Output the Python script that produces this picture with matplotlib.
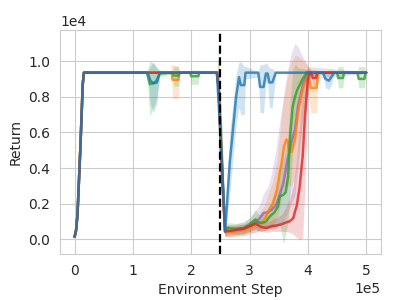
import matplotlib
matplotlib.use("Agg")
import matplotlib.pyplot as plt
import seaborn as sns

# Each row: (environment step, mean return, band low, band high)
ramp = [
    (0, 150, 50, 250), (2500, 500, 350, 650), (5000, 1400, 1200, 1600),
    (10000, 5200, 4900, 5500), (14000, 8700, 8500, 8900), (16000, 9350, 9300, 9400),
]

blue = ramp + [
    (125000, 9350, 9300, 9400), (130000, 8900, 7600, 9700), (135000, 8750, 7100, 9950),
    (141000, 8800, 7600, 9600), (146000, 9350, 9300, 9400), (244000, 9350, 9300, 9400),
    (252000, 4800, 3500, 6500), (258000, 450, 150, 900), (266000, 4300, 2500, 6000),
    (277000, 8000, 6500, 9300), (282000, 9100, 7400, 9950), (285000, 8650, 7000, 9950),
    (291000, 8650, 7000, 9700), (293000, 9350, 9000, 9700), (315000, 9350, 9100, 9400),
    (318000, 8550, 7100, 9800), (324000, 8550, 7100, 9800), (328000, 9300, 8800, 9900),
    (331000, 9300, 8800, 9800), (334000, 8800, 7400, 9600), (339000, 8800, 7400, 9600),
    (345000, 9350, 9300, 9400), (426000, 9350, 9300, 9400), (430000, 9000, 8500, 9450),
    (436000, 8900, 8400, 9500), (441000, 9150, 8700, 9500), (445000, 9350, 9300, 9400),
    (500000, 9350, 9300, 9400),
]

orange = ramp + [
    (164000, 9350, 9300, 9400), (166000, 9350, 9300, 9800), (168000, 8950, 7900, 9800),
    (178000, 8950, 7900, 9700), (180000, 9350, 9300, 9400), (244000, 9350, 9300, 9400),
    (247000, 8500, 7500, 9800), (252000, 4500, 3000, 6500), (258000, 400, 150, 800),
    (275000, 450, 150, 800), (290000, 520, 200, 850), (300000, 650, 300, 1000),
    (310000, 800, 400, 1300), (320000, 950, 450, 1600), (327000, 1200, 500, 2000),
    (332000, 1580, 600, 2600), (340000, 2000, 800, 3300), (347000, 2800, 1200, 4500),
    (352000, 3800, 1800, 6000), (355000, 4300, 2300, 7000), (359000, 5200, 2800, 8000),
    (363000, 5600, 3000, 8800), (366000, 5500, 3000, 9200), (367000, 4900, 3000, 9500),
    (372000, 4900, 3000, 10000), (378000, 5600, 3500, 10300), (383000, 7100, 4500, 10300),
    (392000, 8560, 7000, 10000), (400000, 9120, 8200, 9800), (403000, 8900, 7600, 9600),
    (405000, 8500, 7100, 9500), (415000, 8500, 7100, 9500), (418000, 9350, 9300, 9400),
    (500000, 9350, 9300, 9400),
]

green = ramp + [
    (124000, 9350, 9300, 9400), (129000, 8700, 6900, 10000), (134000, 8750, 7300, 9900),
    (140000, 8880, 7800, 9700), (146000, 9300, 9100, 9500), (168000, 9350, 9300, 9400),
    (170000, 9180, 8600, 9700), (178000, 9180, 8600, 9700), (180000, 9350, 9300, 9400),
    (198000, 9350, 9300, 9400), (200000, 9150, 8700, 9500), (212000, 9150, 8700, 9500),
    (214000, 9350, 9300, 9400), (244000, 9350, 9300, 9400), (247000, 8500, 7500, 10700),
    (252000, 4500, 3000, 7000), (258000, 500, 200, 800), (262000, 650, 350, 950),
    (275000, 600, 300, 900), (290000, 650, 300, 950), (300000, 840, 450, 1200),
    (310000, 1120, 600, 1700), (315000, 950, 500, 1400), (322000, 930, 500, 1400),
    (328000, 1000, 500, 1500), (335000, 1300, 600, 2000), (342000, 1500, 600, 2500),
    (349000, 1860, 700, 3000), (352000, 2420, 900, 4000), (358000, 2500, -250, 4500),
    (362000, 2650, 300, 5000), (366000, 3500, 1000, 6000), (370000, 6000, 3000, 8000),
    (374000, 7450, 5000, 9500), (378000, 8000, 6500, 9800), (382000, 8400, 7500, 9700),
    (386000, 8660, 8000, 9600), (390000, 8940, 8400, 9600), (398000, 9350, 9200, 9500),
    (450000, 9350, 9300, 9400), (452000, 9050, 8500, 9700), (460000, 9050, 8500, 9700),
    (462000, 9350, 9300, 9400), (485000, 9350, 9300, 9400), (487000, 9000, 8500, 9700),
    (497000, 9000, 8500, 9700), (499000, 9350, 9300, 9400), (500000, 9350, 9300, 9400),
]

red = ramp + [
    (244000, 9350, 9300, 9400), (247000, 8500, 7500, 9500), (252000, 4000, 2500, 6000),
    (258000, 460, 200, 750), (270000, 500, 250, 750), (280000, 550, 300, 800),
    (290000, 600, 350, 850), (300000, 740, 450, 1000), (310000, 890, 550, 1200),
    (320000, 700, 450, 1000), (329000, 650, 400, 950), (338000, 750, 450, 1100),
    (346000, 780, 450, 1200), (355000, 850, 450, 1400), (362000, 950, 450, 1800),
    (369000, 1020, 400, 2300), (375000, 1200, 300, 3000), (378000, 1580, 200, 3800),
    (381000, 1900, 100, 4500), (386000, 2980, 0, 6500), (391000, 4650, 100, 8500),
    (395000, 6890, 3000, 9500), (400000, 8940, 8000, 9600), (403000, 9330, 9000, 9600),
    (406000, 9350, 9200, 9500), (408000, 9050, 8600, 9500), (414000, 9050, 8600, 9500),
    (416000, 9350, 9300, 9400), (500000, 9350, 9300, 9400),
]

purple = ramp + [
    (244000, 9350, 9300, 9400), (247000, 8500, 7500, 9500), (252000, 4500, 3000, 6500),
    (258000, 450, 150, 800), (275000, 500, 200, 850), (290000, 600, 250, 1000),
    (300000, 750, 350, 1200), (310000, 950, 400, 1600), (318000, 1200, 500, 2000),
    (324000, 1490, 600, 2600), (332000, 1530, 600, 3000), (338000, 1680, 600, 3800),
    (345000, 1900, 700, 5000), (349000, 2230, 800, 6000), (358000, 3170, 1000, 8000),
    (365000, 4470, 1500, 9500), (372000, 5500, 2000, 10500), (378000, 6150, 2500, 11000),
    (383000, 7450, 4000, 10800), (392000, 8750, 7000, 10200), (400000, 9350, 9000, 9700),
    (500000, 9350, 9300, 9400),
]

switch_step = 250000

sns.set_style("whitegrid")
fig, ax = plt.subplots(figsize=(4, 3), dpi=100)
fig.subplots_adjust(left=0.15, right=0.952, top=0.9, bottom=0.153)

series = [(purple, "C4"), (orange, "C1"), (green, "C2"), (red, "C3"), (blue, "C0")]
for data, color in series:
    xs = [r[0] for r in data]
    ys = [r[1] for r in data]
    lo = [r[2] for r in data]
    hi = [r[3] for r in data]
    ax.fill_between(xs, lo, hi, color=color, alpha=0.2, linewidth=0)
    ax.plot(xs, ys, color=color, lw=1.8, alpha=0.8)

ax.axvline(switch_step, color="black", ls="--", lw=1.6)
ax.set_xlim(-25000, 525000)
ax.set_ylim(-820, 11740)
ax.set_yticks([0, 2000, 4000, 6000, 8000, 10000])
ax.ticklabel_format(style="sci", axis="both", scilimits=(0, 0))
ax.set_xlabel("Environment Step")
ax.set_ylabel("Return")
fig.savefig("out.png", dpi=100)
